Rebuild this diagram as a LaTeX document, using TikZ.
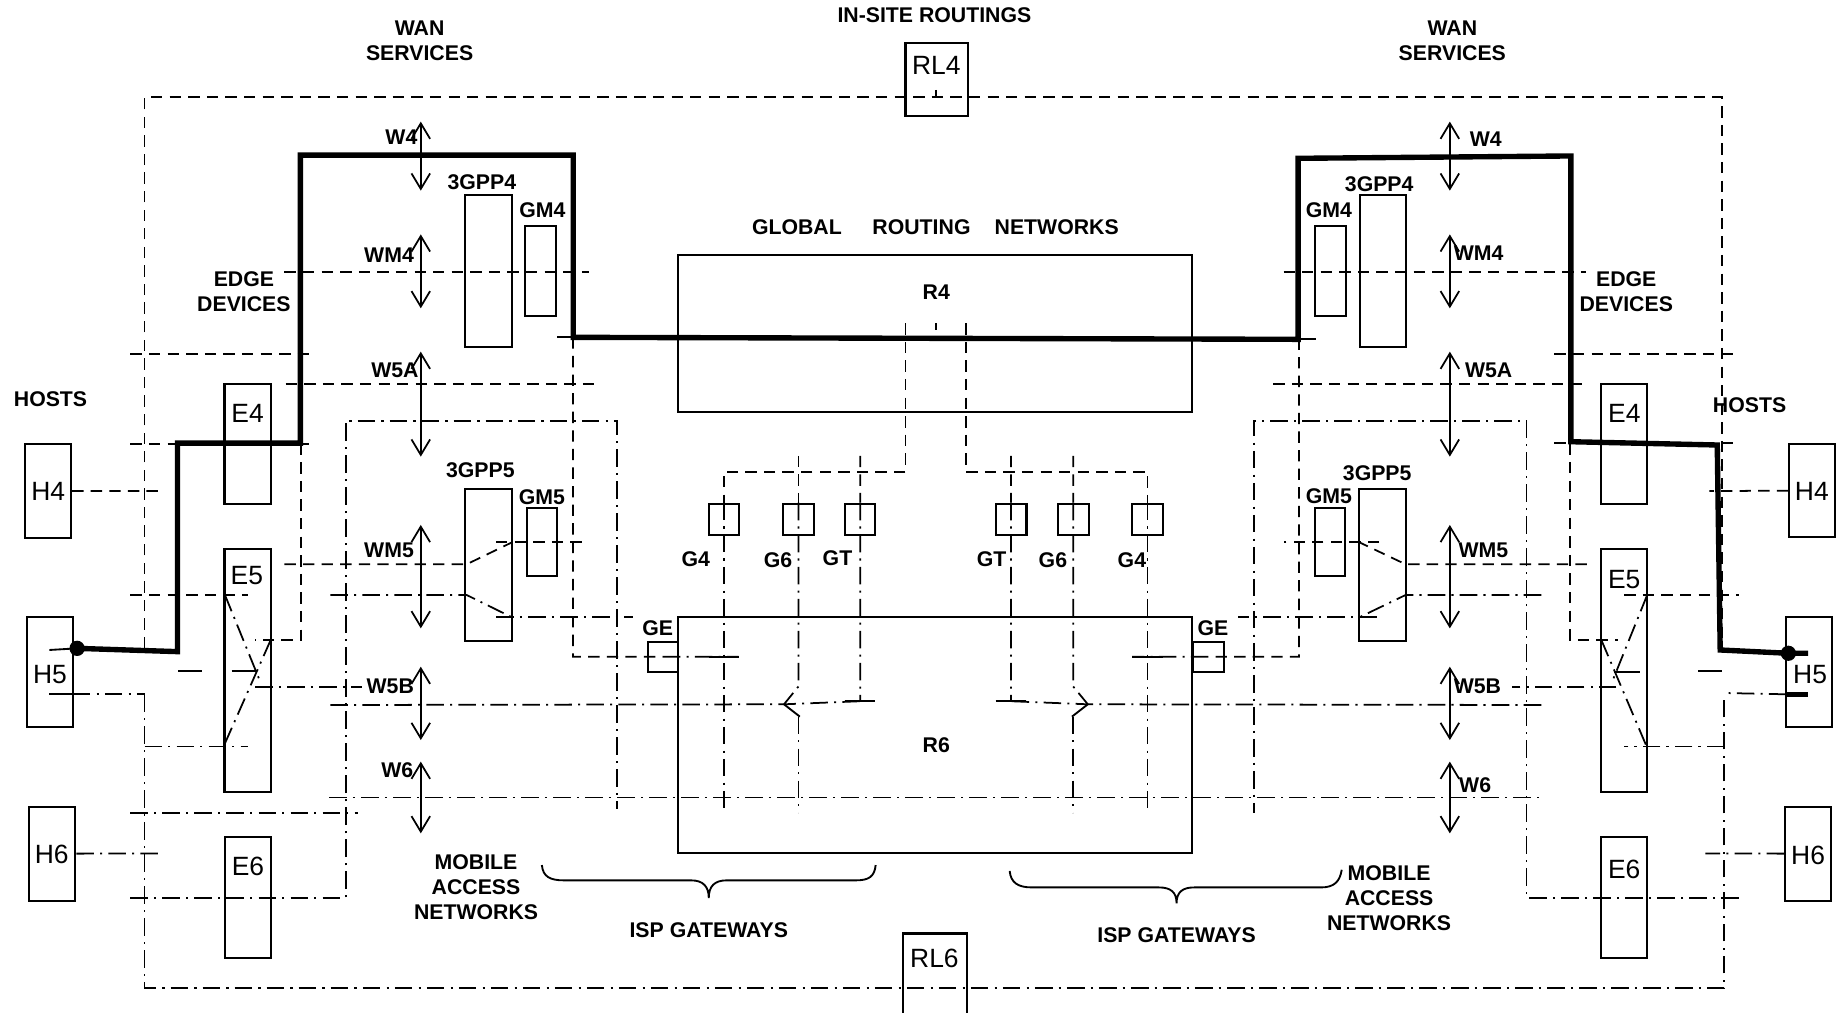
\documentclass[tikz,border=0pt]{standalone}
\usepackage{fontspec}
\setmainfont{Liberation Sans}
\usetikzlibrary{arrows.meta,fit}
\begin{document}
\begin{tikzpicture}[x=0.02cm,y=-0.02cm,
 box/.style={draw,line width=1pt,inner sep=0pt,rectangle},
 blbl/.style={font=\fontsize{10.3}{12}\selectfont\bfseries,align=center,inner sep=0pt},
 nlbl/.style={font=\fontsize{12.8}{14}\selectfont,inner sep=0pt},
 dsh/.style={line width=0.85pt,dash pattern=on 5.5pt off 3.5pt},
 ddot/.style={line width=0.85pt,dash pattern=on 8.5pt off 3pt on 1pt off 3pt},
 sld/.style={line width=0.9pt},
 heavy/.style={line width=2.6pt,line join=miter},
 warrow/.style={line width=0.85pt,{Straight Barb[length=7.5pt,width=9pt]}-{Straight Barb[length=7.5pt,width=9pt]}},
 brc/.style={line width=0.9pt},
 dotn/.style={circle,fill,inner sep=0pt,minimum size=7.4pt},
]
\useasboundingbox (0,0) rectangle (1568,861);

% ---------------- boxes ----------------
\node[box,fit={(21,378)(60.5,457.5)}] (H4L) {};
\node[box,fit={(23,525.2)(62,618.8)}] (H5L) {};
\node[box,fit={(24.5,686.3)(64,766.2)}] (H6L) {};
\node[box,fit={(191,327)(230.4,428.8)}] (E4L) {};
\node[box,fit={(191,467.4)(230.4,673.5)}] (E5L) {};
\node[box,fit={(191.7,711.8)(230.7,814.7)}] (E6L) {};
\node[box,fit={(396,166)(435.6,295)}] (P4L) {};
\node[box,fit={(447,192.3)(473,269)}] (GM4L) {};
\node[box,fit={(396,416)(435.6,545)}] (P5L) {};
\node[box,fit={(448,432.5)(473.6,490)}] (GM5L) {};
\node[box,fit={(577,217)(1014.2,350.5)}] (R4) {};
\node[box,fit={(577,525)(1014.2,726)}] (R6) {};
\node[box,fit={(770.4,36.5)(823.5,99)}] (RL4) {};
\node[box,fit={(768,794.2)(822.5,875)}] (RL6) {};
\node[box,fit={(551,546)(577,571.6)}] (GEL) {};
\node[box,fit={(1015.2,546)(1041.1,571.6)}] (GER) {};
\node[box,fit={(603,428.6)(628.4,455.3)}] (G4L) {};
\node[box,fit={(666.4,428.6)(692.3,455.3)}] (G6L) {};
\node[box,fit={(719.2,428.6)(744.5,455.3)}] (GTL) {};
\node[box,fit={(847,428.6)(873.3,455.3)}] (GTR) {};
\node[box,fit={(899.9,428.6)(926.1,455.3)}] (G6R) {};
\node[box,fit={(963.1,428.6)(989.3,455.3)}] (G4R) {};
\node[box,fit={(1157.2,166)(1196.2,295)}] (P4R) {};
\node[box,fit={(1118.9,192.3)(1145.1,269)}] (GM4R) {};
\node[box,fit={(1156.5,416)(1195.9,545)}] (P5R) {};
\node[box,fit={(1118.5,432.5)(1144.1,490)}] (GM5R) {};
\node[box,fit={(1362.4,327)(1401.4,428.8)}] (E4R) {};
\node[box,fit={(1362.4,467.4)(1401.4,673.5)}] (E5R) {};
\node[box,fit={(1361.7,711.8)(1401.4,814.7)}] (E6R) {};
\node[box,fit={(1522.2,378)(1560.9,457.1)}] (H4R) {};
\node[box,fit={(1519.8,525.2)(1558.5,618.8)}] (H5R) {};
\node[box,fit={(1518.8,686.3)(1557.8,766.2)}] (H6R) {};

% ---------------- box labels ----------------
\node[nlbl] (tH4L) at (41,418) {H4};
\node[nlbl] (tH5L) at (42.5,574) {H5};
\node[nlbl] (tH6L) at (44,727) {H6};
\node[nlbl] (tE4L) at (210.7,351.6) {E4};
\node[nlbl] (tE5L) at (210,490) {E5};
\node[nlbl] (tE6L) at (211,737.3) {E6};
\node[nlbl] (tRL4) at (796.6,55.3) {RL4};
\node[nlbl] (tRL6) at (795,815) {RL6};
\node[nlbl] (tE4R) at (1382,351.6) {E4};
\node[nlbl] (tE5R) at (1381.9,493.4) {E5};
\node[nlbl] (tE6R) at (1381.9,740) {E6};
\node[nlbl] (tH4R) at (1541.5,418.3) {H4};
\node[nlbl] (tH5R) at (1540,574.3) {H5};
\node[nlbl] (tH6R) at (1538.3,727.4) {H6};

% ---------------- bold labels ----------------
\node[blbl] (tWANL) at (357,35) {WAN\\SERVICES};
\node[blbl] (tWANR) at (1235.6,35) {WAN\\SERVICES};
\node[blbl] (tINS) at (795,13) {IN-SITE ROUTINGS};
\node[blbl] (tGLO) at (678,193) {GLOBAL};
\node[blbl] (tROU) at (784,193) {ROUTING};
\node[blbl] (tNET) at (899,193) {NETWORKS};
\node[blbl] (tEDL) at (207.5,248) {EDGE\\DEVICES};
\node[blbl] (tEDR) at (1383.6,248) {EDGE\\DEVICES};
\node[blbl] (tHOL) at (43,340) {HOSTS};
\node[blbl] (tHOR) at (1488.5,345) {HOSTS};
\node[blbl] (tW4L) at (341.5,116.3) {W4};
\node[blbl] (tWM4L) at (331,217) {WM4};
\node[blbl] (tW5AL) at (336,315.3) {W5A};
\node[blbl] (tWM5L) at (331,468) {WM5};
\node[blbl] (tW5BL) at (332,584.2) {W5B};
\node[blbl] (tW6L) at (338,655) {W6};
\node[blbl] (tW4R) at (1264,118.5) {W4};
\node[blbl] (tWM4R) at (1258,215.5) {WM4};
\node[blbl] (tW5AR) at (1266.5,314.8) {W5A};
\node[blbl] (tWM5R) at (1262,468) {WM5};
\node[blbl] (tW5BR) at (1257,584.2) {W5B};
\node[blbl] (tW6R) at (1255,667.9) {W6};
\node[blbl] (tP4L) at (410,155.4) {3GPP4};
\node[blbl] (tGM4L) at (461.5,179.2) {GM4};
\node[blbl] (tP5L) at (408.7,400) {3GPP5};
\node[blbl] (tGM5L) at (461,423.4) {GM5};
\node[blbl] (tP4R) at (1173.4,156.5) {3GPP4};
\node[blbl] (tGM4R) at (1130.6,179.2) {GM4};
\node[blbl] (tP5R) at (1171.7,402.7) {3GPP5};
\node[blbl] (tGM5R) at (1130.6,422.5) {GM5};
\node[blbl] (tG4L) at (592,475.5) {G4};
\node[blbl] (tG6L) at (662,476.8) {G6};
\node[blbl] (tGTL) at (712.5,474.5) {GT};
\node[blbl] (tGTR) at (843.7,476) {GT};
\node[blbl] (tG6R) at (895.8,476.8) {G6};
\node[blbl] (tG4R) at (963,476.8) {G4};
\node[blbl] (tGEL) at (559.5,534.6) {GE};
\node[blbl] (tGER) at (1032,534.6) {GE};
\node[blbl] (tR4) at (796.6,248.2) {R4};
\node[blbl] (tR6) at (796.6,634.2) {R6};
\node[blbl] (tMANL) at (405,755) {MOBILE\\ACCESS\\NETWORKS};
\node[blbl] (tMANR) at (1181.8,764.3) {MOBILE\\ACCESS\\NETWORKS};
\node[blbl] (tISPL) at (603,791) {ISP GATEWAYS};
\node[blbl] (tISPR) at (1001,796) {ISP GATEWAYS};

% ---------------- dashed (outer) ----------------
\draw[dsh] (123,551.6) -- (123,82.8) -- (1465,82.8) -- (1465,553);
\draw[sld] (796.6,76.5) -- (796.6,82.8);
\draw[dsh] (242,231.1) -- (501,231.1);
\draw[dsh] (1092,231.1) -- (1349.3,231.1);
\draw[dsh] (111,301.2) -- (269,301.2);
\draw[dsh] (1322.4,301.2) -- (1477.8,301.2);
\draw[dsh] (243,327) -- (508.6,327);
\draw[dsh] (1083.2,327) -- (1349.3,327);
\draw[dsh] (111,377.5) -- (269,377.5);
\draw[dsh] (1322.4,377.2) -- (1479.4,377.2);
\draw[dsh] (H4L.east) -- (136,417.7);
\draw[dsh] (H4R.west) -- (1454.2,417.7);
\draw[dsh] (111,506.2) -- (211,506.2);
\draw[dsh] (1381.9,506.2) -- (1479.4,506.2);
\draw[dsh] (256,377.5) -- (256,544.5) -- (217,544.5);
\draw[dsh] (1335.8,377.2) -- (1335.8,544.5) -- (1376.2,544.5);
\draw[dsh] (242,480.1) -- (397,480.1) -- (435.6,461.4);
\draw[dsh] (422,461.4) -- (501,461.4);
\draw[dsh] (1350,480.1) -- (1195.9,480.1) -- (1156.5,461.4);
\draw[dsh] (1173.4,461.4) -- (1092,461.4);
\draw[dsh] (487.5,287) -- (487.5,558.7) -- (GEL.center);
\draw[ddot] (GEL.center) -- (628.4,558.7);
\draw[sld] (603,558.7) -- (628.4,558.7);
\draw[dsh] (1105.2,288) -- (1105.2,558.7) -- (GER.center);
\draw[ddot] (GER.center) -- (963.1,558.7);
\draw[sld] (963.1,558.7) -- (989.3,558.7);
\draw[sld] (474.3,287) -- (487.5,287);
\draw[sld] (1105.2,288.5) -- (1119.5,288.5);

% ---------------- R4 to gateways ----------------
\draw[sld] (796.6,275) -- (796.6,281);
\draw[dsh] (770.4,275) -- (770.4,401.3) -- (615.7,401.3) -- (G4L.north);
\draw[dsh] (679.35,387.8) -- (G6L.north);
\draw[dsh] (731.85,387.8) -- (GTL.north);
\draw[dsh] (821.8,275) -- (821.8,401.3) -- (976.2,401.3) -- (G4R.north);
\draw[dsh] (860.15,387.8) -- (GTR.north);
\draw[dsh] (913,387.8) -- (G6R.north);

\draw[ddot] (G4L.north) -- (615.7,691.4);
\draw[ddot] (G6L.north) -- (679.35,584) -- (667,599.2);
\draw[sld] (667,599.2) -- (680.5,609.7);
\draw[ddot] (679.35,609.7) -- (679.35,691.4);
\draw[ddot] (GTL.north) -- (731.85,596.6);
\draw[sld] (719.2,596.6) -- (744.5,596.6);
\draw[ddot] (281,599.8) -- (667,599.2) -- (731.85,596.6);

\draw[ddot] (G4R.north) -- (976.2,691.4);
\draw[ddot] (G6R.north) -- (913,584) -- (925.5,599.2);
\draw[sld] (925.5,599.2) -- (912,609.7);
\draw[ddot] (913,609.7) -- (913,691.4);
\draw[ddot] (GTR.north) -- (860.15,596.6);
\draw[sld] (847,596.6) -- (873.3,596.6);
\draw[ddot] (1311.3,599.8) -- (925.5,599.2) -- (860.15,596.6);

% ---------------- dash-dot (outer, mobile) ----------------
\draw[ddot] (123,590.7) -- (123,840.8) -- (1467,840.8) -- (1467,590.7);
\draw[ddot] (62,590.7) -- (123,590.7);
\draw[sld] (42,590.7) -- (72,590.7);
\draw[ddot] (123,635.2) -- (211,635.2);
\draw[ddot] (1519.8,590.7) -- (1467,589.6);
\draw[heavy] (1519.8,590.7) -- (1538.3,590.7);
\draw[ddot] (1467,635.2) -- (1382,635.2);
\draw[ddot] (H6L.east) -- (139,726.2);
\draw[ddot] (H6R.west) -- (1450.9,726.2);
\draw[ddot] (111,692) -- (304.4,692);
\draw[ddot] (111,763.7) -- (294.3,763.7) -- (294.3,357.9) -- (525,357.9) -- (525,688);
\draw[ddot] (1479.4,763.7) -- (1298.8,763.7) -- (1298.8,357.9) -- (1066.7,357.9) -- (1066.7,692);

% E5 crossings
\draw[ddot] (191.4,506.2) -- (221,579);
\draw[ddot] (217,584.2) -- (307.7,584.2);
\draw[ddot] (230.3,544.5) -- (191.4,632.4);
\draw[sld] (197,570.6) -- (218.4,570.6);
\draw[sld] (151.7,570.6) -- (171.6,570.6);
\draw[ddot] (1401.4,506.2) -- (1372,579);
\draw[ddot] (1375.2,584.2) -- (1286,584.2);
\draw[ddot] (1362.4,544.5) -- (1400.4,633.9);
\draw[sld] (1373.5,571.4) -- (1395.4,571.4);
\draw[sld] (1445,570.6) -- (1465.3,570.6);

% 3GPP5 dash-dot
\draw[ddot] (281,506.2) -- (397,506.2) -- (435.6,525.2);
\draw[ddot] (422,525.2) -- (538.7,525.2);
\draw[ddot] (1311.3,506.2) -- (1195.9,506.2) -- (1156.5,525.2);
\draw[ddot] (1171.2,525.2) -- (1053.5,525.2);
\draw[ddot] (280,678.4) -- (1311.3,678.4);

% ---------------- thick path ----------------
\node[dotn] (dotL) at (65.6,551.6) {};
\node[dotn] (dotR) at (1521.5,555.8) {};
\draw[sld] (42,553) -- (dotL.center);
\draw[heavy] (dotL.center) -- (151,554.4) -- (151,377) -- (255.6,377) -- (255.6,132) -- (487.7,132) -- (487.7,287) -- (1104.4,288.7) -- (1104.4,134.7) -- (1336.5,132.7) -- (1336.5,375.8) -- (1461,378.6) -- (1463.5,553) -- (dotR.center) -- (1538.3,555.8);

% ---------------- double arrows ----------------
\draw[warrow] (358,103.5) -- (358,162.2);
\draw[warrow] (358,199.4) -- (358,262.3);
\draw[warrow] (358,299.2) -- (358,388.5);
\draw[warrow] (358,446.6) -- (358,534.6);
\draw[warrow] (358,567.2) -- (358,629.6);
\draw[warrow] (358,648) -- (358,709);
\draw[warrow] (1233.5,103.5) -- (1233.5,162.2);
\draw[warrow] (1233.5,199.4) -- (1233.5,262.3);
\draw[warrow] (1233.5,299.2) -- (1233.5,388.5);
\draw[warrow] (1233.5,446.6) -- (1233.5,534.6);
\draw[warrow] (1233.5,567.2) -- (1233.5,629.6);
\draw[warrow] (1233.5,648) -- (1233.5,709);

% ---------------- braces ----------------
\draw[brc] (461,736) .. controls (462,746) and (468,749) .. (480,749) -- (588,749) .. controls (598,749) and (603,754) .. (603,764) .. controls (603,754) and (608,749) .. (618,749) -- (728,749) .. controls (739,749) and (744,746) .. (745,736);
\draw[brc] (859,741) .. controls (860,751) and (866,755) .. (878,755) -- (986,755) .. controls (996,755) and (1001,759) .. (1001,768.5) .. controls (1001,759) and (1006,755) .. (1016,755) -- (1124,755) .. controls (1135,755) and (1140,750) .. (1141.5,740);
\end{tikzpicture}
\end{document}
